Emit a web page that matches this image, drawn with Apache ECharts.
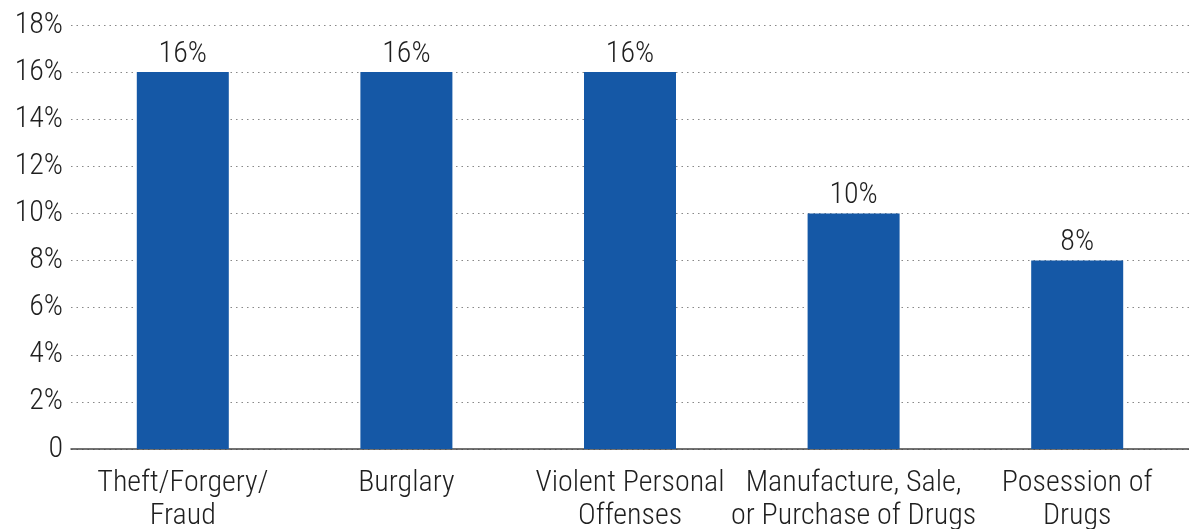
<!DOCTYPE html>
<html>
<head>
<meta charset="utf-8">
<script src="https://cdn.jsdelivr.net/npm/echarts@6/dist/echarts.min.js"></script>
<style>
  html, body { margin: 0; padding: 0; background: #fff; }
  #chart { width: 1189px; height: 529px; }
</style>
</head>
<body>
<div id="chart"></div>
<script>
const categories = [
  'Theft/Forgery/\nFraud',
  'Burglary',
  'Violent Personal\nOffenses',
  'Manufacture, Sale,\nor Purchase of Drugs',
  'Posession of\nDrugs'
]
const values = [16, 16, 16, 10, 8]

const font = "'Roboto Condensed', 'Liberation Sans Narrow', 'Roboto', sans-serif"
const textColor = '#1f1f1f'

const chart = echarts.init(document.getElementById('chart'))

chart.setOption({
  backgroundColor: '#fff',
  animation: false,
  grid: {
    left: 71,
    right: 0,
    top: 25,
    bottom: 80,
    containLabel: false,
    outerBoundsMode: 'none'
  },
  xAxis: {
    type: 'category',
    data: categories,
    axisLine: { lineStyle: { color: '#444', width: 1.5 } },
    axisTick: { alignWithLabel: true, length: 10, lineStyle: { color: '#444', width: 1.5 } },
    axisLabel: {
      color: textColor,
      fontFamily: font,
      fontWeight: 300,
      fontSize: 30,
      lineHeight: 33,
      margin: 18,
      interval: 0
    }
  },
  yAxis: {
    type: 'value',
    min: 0,
    max: 18,
    interval: 2,
    axisLine: { show: false },
    axisTick: { show: false },
    axisLabel: {
      color: textColor,
      fontFamily: font,
      fontWeight: 300,
      fontSize: 30,
      margin: 8,
      formatter: v => v === 0 ? '0' : v + '%'
    },
    splitLine: {
      lineStyle: { color: '#888', type: [1.5, 4], width: 1.2 }
    }
  },
  series: [
    {
      type: 'bar',
      data: values,
      barWidth: 92,
      itemStyle: { color: '#1558a6' },
      label: {
        show: true,
        position: 'top',
        distance: 3,
        color: textColor,
        fontFamily: font,
        fontWeight: 300,
        fontSize: 30,
        formatter: p => p.value + '%'
      }
    }
  ]
})
</script>
</body>
</html>
